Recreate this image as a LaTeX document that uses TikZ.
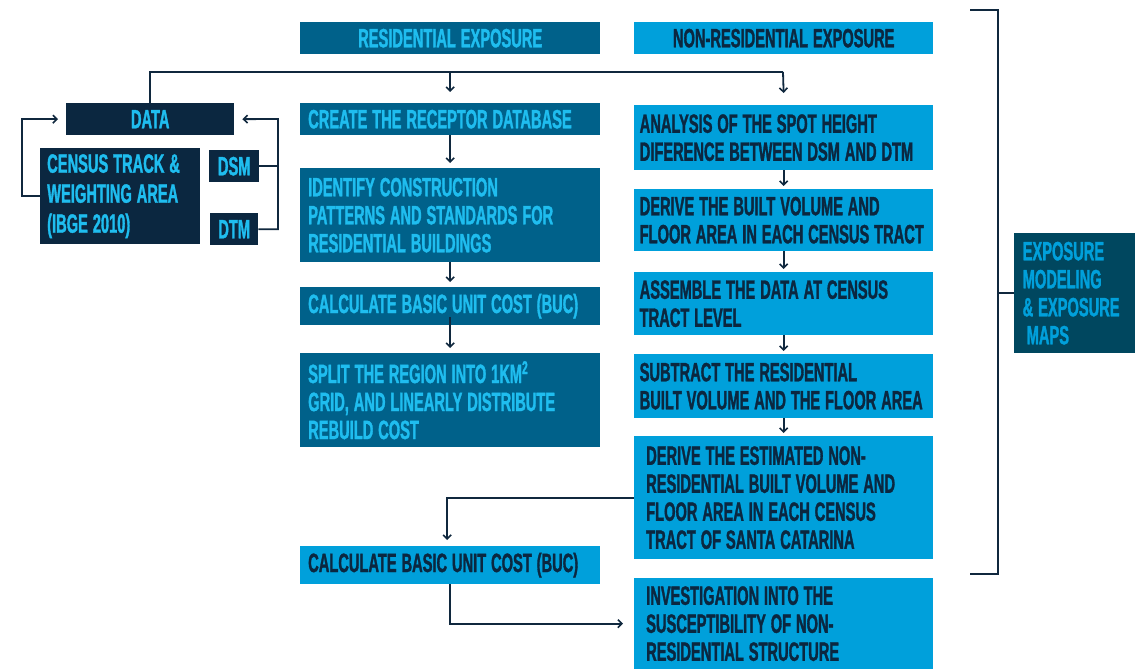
\documentclass[tikz,border=0pt]{standalone}
\usepackage{fontspec}
\newfontfamily\condensed{Liberation Sans}[FakeStretch=0.553, FakeBold=1.2, WordSpace=1.2]
\usetikzlibrary{positioning, arrows.meta}

\definecolor{navy}{HTML}{0B2740}
\definecolor{resblue}{HTML}{00618A}
\definecolor{nonresblue}{HTML}{00A0DB}
\definecolor{cyantext}{HTML}{1FBDEF}
\definecolor{expblue}{HTML}{00475F}
\definecolor{linecol}{HTML}{10283E}

\begin{document}
\begin{tikzpicture}[
x=1pt, y=-1pt,
box/.style={anchor=north west, inner sep=0pt, font={\condensed\bfseries\fontsize{26.5}{28}\selectfont}},
resbox/.style={box, fill=resblue, text=cyantext, minimum width=300, text width=284, align=flush left},
nonresbox/.style={box, fill=nonresblue, text=navy, minimum width=299, text width=288, align=flush left},
databox/.style={box, fill=navy, text=cyantext, align=center},
conn/.style={draw=linecol, line width=1.8pt},
arrow/.style={conn, -{Straight Barb[length=4pt, width=8pt, line width=1.6pt]}, shorten >=3pt}
]
\useasboundingbox (0,0) rectangle (1136,669);

%Headers
\node[box, fill=resblue, text=cyantext, minimum width=300, minimum height=32, align=center] (ResHead) at (300,22) {RESIDENTIAL EXPOSURE};
\node[box, fill=nonresblue, text=navy, minimum width=299, minimum height=32, align=center] (NonResHead) at (634,22) {NON-RESIDENTIAL EXPOSURE};

%Data
\node[databox, minimum width=168, minimum height=32] (Data) at (66,103) {DATA};
\node[databox, minimum width=160, minimum height=96, text width=146, align=flush left, font={\condensed\bfseries\fontsize{26.5}{30}\selectfont}] (Census) at (40,148) {CENSUS TRACK \&\\WEIGHTING AREA\\(IBGE 2010)};
\node[databox, minimum width=50, minimum height=32] (DSM) at (209,150) {DSM};
\node[databox, minimum width=48, minimum height=32] (DTM) at (210,213) {DTM};

%Residential
\node[resbox, minimum height=32] (Receptor) at (300,103) {CREATE THE RECEPTOR DATABASE};
\node[resbox, minimum height=94] (Patterns) at (300,168) {IDENTIFY CONSTRUCTION\\PATTERNS AND STANDARDS FOR\\RESIDENTIAL BUILDINGS};
\node[resbox, minimum height=38] (BUC) at (300,287) {CALCULATE BASIC UNIT COST (BUC)};
\node[resbox, minimum height=94] (Split) at (300,353) {SPLIT THE REGION INTO 1KM\textsuperscript{2}\\GRID, AND LINEARLY DISTRIBUTE\\REBUILD COST};

%Non-residential
\node[nonresbox, minimum height=65] (Analysis) at (634,105) {ANALYSIS OF THE SPOT HEIGHT\\DIFERENCE BETWEEN DSM AND DTM};
\node[nonresbox, minimum height=62] (Volume) at (634,189) {DERIVE THE BUILT VOLUME AND\\FLOOR AREA IN EACH CENSUS TRACT};
\node[nonresbox, minimum height=63] (Assemble) at (634,272) {ASSEMBLE THE DATA AT CENSUS\\TRACT LEVEL};
\node[nonresbox, minimum height=64] (Subtract) at (634,354) {SUBTRACT THE RESIDENTIAL\\BUILT VOLUME AND THE FLOOR AREA};
\node[nonresbox, minimum height=123, text width=275] (Estimated) at (634,436) {DERIVE THE ESTIMATED NON-\\RESIDENTIAL BUILT VOLUME AND\\FLOOR AREA IN EACH CENSUS\\TRACT OF SANTA CATARINA};
\node[nonresbox, minimum height=91, text width=275] (Investigation) at (634,578) {INVESTIGATION INTO THE\\SUSCEPTIBILITY OF NON-\\RESIDENTIAL STRUCTURE};
\node[box, fill=nonresblue, text=navy, minimum width=300, text width=284, align=flush left, minimum height=38] (BUCnr) at (300,546) {CALCULATE BASIC UNIT COST (BUC)};

%Exposure
\node[box, fill=expblue, text=nonresblue, minimum width=121, minimum height=120, text width=104, align=flush left] (Exposure) at (1014,233) {EXPOSURE\\MODELING\\\&~EXPOSURE\\\hspace{4pt}MAPS};

%Lines
\coordinate (TopBar) at (783,72);
\draw[conn] (Data.north) |- (TopBar);
\draw[arrow] (Receptor.north |- TopBar) -- ([yshift=8pt]Receptor.north);
\draw[arrow] (TopBar) -- ([yshift=9pt]Analysis.north);

\draw[arrow, shorten >=8pt] (Census.west) -- ++(-18,0) |- (Data.west);
\coordinate (DataIn) at (278,119);
\draw[conn] (DSM.east) -- (DSM.east -| DataIn);
\draw[arrow, shorten >=8pt] (DTM.east) -| (DataIn) -- (Data.east);

\draw[arrow, shorten >=5pt] (Receptor.south) -- (Patterns.north);
\draw[arrow, shorten >=5pt] (Patterns.south) -- (BUC.north);
\draw[arrow, shorten >=5pt] ([yshift=8pt]BUC.south) -- (Split.north);

\draw[arrow] (Analysis.south) -- (Volume.north);
\draw[arrow] (Volume.south) -- (Assemble.north);
\draw[arrow] (Assemble.south) -- (Subtract.north);
\draw[arrow] (Subtract.south) -- (Estimated.north);

\draw[arrow, shorten >=6pt] (Estimated.west) -| ([xshift=-3pt]BUCnr.north);
\draw[arrow, shorten >=11pt] (BUCnr.south) |- (Investigation.west);

%Bracket
\coordinate (BrTop) at (970,10);
\coordinate (BrCorner) at (998,574);
\coordinate (BrBot) at (970,574);
\draw[conn] (BrTop) -| (BrCorner) -- (BrBot);
\draw[conn] (BrCorner |- Exposure.west) -- (Exposure.west);
\end{tikzpicture}
\end{document}
